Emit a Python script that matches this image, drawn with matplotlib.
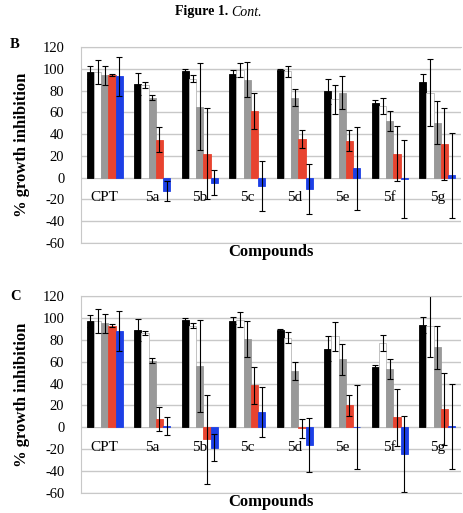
import numpy as np
import matplotlib
matplotlib.use('Agg')
import matplotlib.pyplot as plt

plt.rcParams['font.family'] = ['Liberation Serif', 'DejaVu Serif']
plt.rcParams['axes.unicode_minus'] = False

compounds = ['CPT', '5a', '5b', '5c', '5d', '5e', '5f', '5g']

# panel B: means and error per series (black, white, gray, red, blue)
b_black = [97, 86, 98, 95.5, 98.5, 79.5, 69, 88]
b_black_err = [6, 10, 1.5, 3.5, 1, 11.5, 2, 7]
b_white = [97, 85, 91, 99, 97.5, 72, 66, 78]
b_white_err = [11, 3, 3, 6.5, 5.5, 13.5, 7.5, 31]
b_gray = [94, 73.5, 65, 90, 73.5, 78, 52, 50.5]
b_gray_err = [8.5, 2, 40, 16, 8, 15, 9, 19.5]
b_red = [94, 35, 22, 61, 35.5, 34, 22, 31]
b_red_err = [1, 11.5, 42, 16.5, 8.5, 9.5, 25, 33]
b_blue = [93, -12, -4.5, -7.5, -10, 8.5, -1, 2]
b_blue_err = [18, 9, 11.5, 23, 23, 38, 36, 39]

# panel C
c_black = [97.5, 89, 98.5, 97.5, 89, 72, 55, 93.5]
c_black_err = [5.5, 10, 1, 3.5, 1, 11.5, 1.5, 7.5]
c_white = [97, 86, 93, 98.5, 82, 83, 77, 93]
c_white_err = [11, 2, 2, 6.5, 5, 13.5, 7.5, 28.5]
c_gray = [95, 61, 56, 81, 51.5, 62, 53, 73]
c_gray_err = [8.5, 2, 42, 16.5, 8, 14.5, 9, 20]
c_red = [93, 8, -11, 38.5, -1, 20, 9, 17]
c_red_err = [1.5, 11, 41, 17, 9, 10, 26, 33]
c_blue = [88, 1, -18.5, 14, -16, 0.5, -24.5, 1]
c_blue_err = [18, 8, 12, 23, 24.5, 38.5, 35, 39]

colors = ['#000000', '#ffffff', '#999999', '#e8432f', '#1c3fe6']
edges = ['#000000', '#b8b8b8', '#999999', '#e8432f', '#1c3fe6']


def draw_panel(ax, series, errs):
    x = np.arange(len(compounds)) + 0.5
    w = 0.152
    for k in range(5):
        ax.bar(x + (k - 2) * w, series[k], w, color=colors[k], edgecolor=edges[k],
               linewidth=0.6, zorder=2,
               yerr=errs[k], error_kw=dict(ecolor='black', elinewidth=0.8, capsize=2.5, capthick=0.8))
    for xi, name in zip(x, compounds):
        ax.text(xi, -18, name, ha='center', va='center', fontsize=11, zorder=3)
    ax.set_xlim(0, len(compounds))
    ax.set_ylim(-60, 120)
    ax.set_yticks(range(-60, 121, 20))
    ax.set_xticks([])
    ax.yaxis.grid(True, color='#c8c8c8', linewidth=1)
    ax.set_axisbelow(True)
    ax.tick_params(axis='y', length=0, pad=12, labelsize=10.5)
    for s in ['left', 'top', 'bottom']:
        ax.spines[s].set_color('#c8c8c8')
    ax.spines['right'].set_visible(False)
    ax.set_xlabel('Compounds', fontsize=12, fontweight='bold', labelpad=1)
    ax.set_ylabel('% growth inhibition', fontsize=12, fontweight='bold', labelpad=9)


fig = plt.figure(figsize=(4.63, 5.13), dpi=100)
ax1 = fig.add_axes([81/463, 1-243/513, 380/463, 196/513])
ax2 = fig.add_axes([81/463, 1-493/513, 380/463, 197/513])

draw_panel(ax1, [b_black, b_white, b_gray, b_red, b_blue],
           [b_black_err, b_white_err, b_gray_err, b_red_err, b_blue_err])
draw_panel(ax2, [c_black, c_white, c_gray, c_red, c_blue],
           [c_black_err, c_white_err, c_gray_err, c_red_err, c_blue_err])

fig.text(0.5, 1-12/513, 'Figure 1. ', ha='right', va='center', fontsize=10, fontweight='bold')
fig.text(0.5, 1-12/513, 'Cont.', ha='left', va='center', fontsize=10, style='italic')
fig.text(10/463, 1-45/513, 'B', ha='left', va='center', fontsize=10.5, fontweight='bold')
fig.text(10/463, 1-296/513, 'C', ha='left', va='center', fontsize=10.5, fontweight='bold')

fig.savefig('out.png', dpi=100)
